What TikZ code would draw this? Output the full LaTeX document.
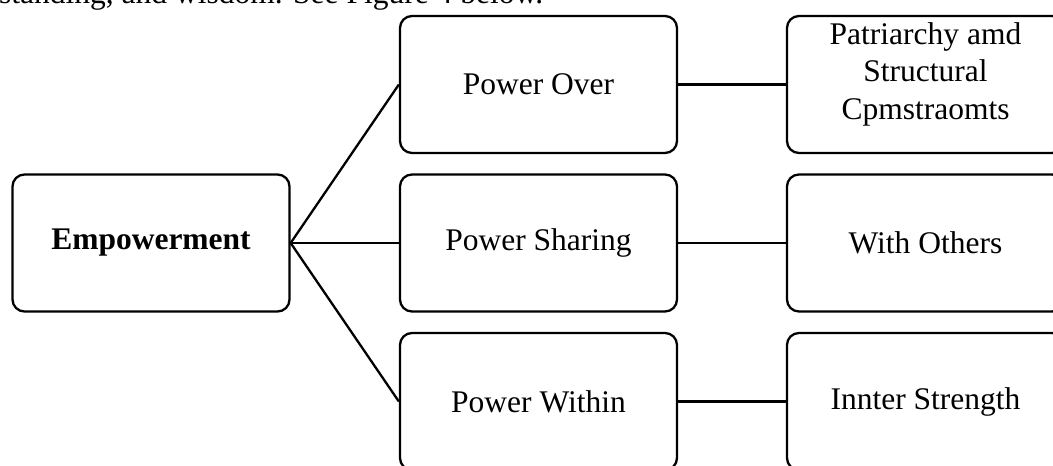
\documentclass[tikz,border=0pt]{standalone}
\usepackage{fontspec}
\setmainfont{Liberation Serif}
\begin{document}
\begin{tikzpicture}[x=1pt,y=-1pt,
  box/.style={draw, line width=2.3pt, rounded corners=12pt,
              minimum width=277pt, minimum height=137pt, inner sep=0pt,
              align=center, font=\fontsize{31.5}{37.5}\selectfont},
  txt/.style={inner sep=0pt, align=center, font=\fontsize{31.5}{37.5}\selectfont},
  link/.style={line width=2.3pt}]
\useasboundingbox (0,0) rectangle (1053,466);

% running text of the page above the figure
\node[txt, anchor=base west] (lead) at (-1,3) {standing, and wisdom. See Figure 4 below.};

% root
\node[box] (emp) at (151,243) {\textbf{Empowerment}};

% second level
\node[box] (over)  at (538.5,84.5)  {Power Over};
\node[box] (share) at (538.5,243)   {Power Sharing};
\node[box] (within) at (538.5,401.5) {Power Within};

% third level
\node[box] (patr)   at (925.5,84.5)  {};
\node[txt] (patrtxt) at (925.5,74) {Patriarchy amd\\Structural\\Cpmstraomts};
\node[box] (others) at (925.5,243)   {With Others};
\node[box] (inner)  at (925.5,401.5) {Innter Strength};

% connectors
\draw[link] (emp.east) -- (over.west);
\draw[link] (emp.east) -- (share.west);
\draw[link] (emp.east) -- (within.west);
\draw[link] (over.east) -- (patr.west);
\draw[link] (share.east) -- (others.west);
\draw[link] (within.east) -- (inner.west);
\end{tikzpicture}
\end{document}
